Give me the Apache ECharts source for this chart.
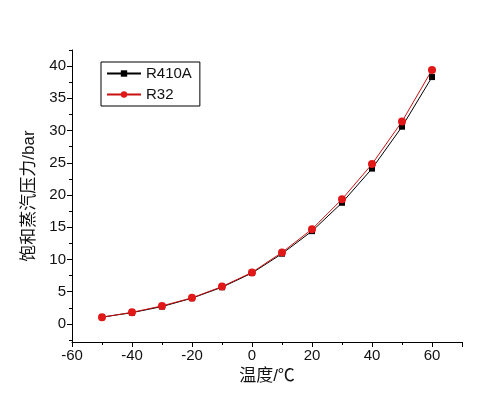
<!DOCTYPE html>
<html>
<head>
<meta charset="utf-8">
<script src="https://cdn.jsdelivr.net/npm/echarts@6/dist/echarts.min.js"></script>
<style>
html,body{margin:0;padding:0;background:#fff;}
#main{width:494px;height:403px;}
</style>
</head>
<body>
<div id="main"></div>
<script>
// 温度 (℃)
var temps = [-50, -40, -30, -20, -10, 0, 10, 20, 30, 40, 50, 60];
// 饱和蒸汽压力 (bar)
var r410a = [1.05, 1.75, 2.7, 4.0, 5.7, 7.9, 10.9, 14.4, 18.8, 24.1, 30.6, 38.3];
var r32 = [1.05, 1.8, 2.8, 4.05, 5.8, 8.0, 11.1, 14.7, 19.35, 24.8, 31.4, 39.4];
var xMajor = [-60, -40, -20, 0, 20, 40, 60];
var yMajor = [0, 5, 10, 15, 20, 25, 30, 35, 40];
var yMinor = [-2.5, 2.5, 7.5, 12.5, 17.5, 22.5, 27.5, 32.5, 37.5, 42.5];

var font = 'Arial, "Liberation Sans", "Noto Sans CJK SC", sans-serif';
var chart = echarts.init(document.getElementById('main'));

function pairs(vals) {
	return temps.map(function (t, i) { return [t, vals[i]]; });
}

var option = {
	animation: false,
	grid: { left: 72, right: 32, top: 50, bottom: 61 },
	legend: {
		orient: 'vertical',
		left: 101, top: 62,
		itemWidth: 34, itemHeight: 8, itemGap: 6,
		padding: [4, 8, 4, 5],
		borderColor: '#000', borderWidth: 1,
		textStyle: { fontFamily: font, fontSize: 15, color: '#111' },
		data: ['R410A', 'R32']
	},
	xAxis: {
		type: 'value', min: -60, max: 70, interval: 20,
		name: '温度/℃', nameLocation: 'middle', nameGap: 23,
		nameTextStyle: { fontFamily: font, fontSize: 17, color: '#111' },
		axisLine: { show: true, onZero: false, lineStyle: { color: '#000' } },
		axisTick: { show: true, length: 5, lineStyle: { color: '#000' } },
		minorTick: { show: true, splitNumber: 2, length: 3, lineStyle: { color: '#000' } },
		axisLabel: { fontFamily: font, fontSize: 15, color: '#111', margin: 6, customValues: xMajor },
		splitLine: { show: false }
	},
	yAxis: [{
		type: 'value', min: -2.8, max: 42.5,
		name: '饱和蒸汽压力/bar', nameLocation: 'middle', nameGap: 34, nameRotate: 90,
		nameTextStyle: { fontFamily: font, fontSize: 17, color: '#111' },
		axisLine: { show: true, onZero: false, lineStyle: { color: '#000' } },
		axisTick: { show: true, length: 5, customValues: yMajor, lineStyle: { color: '#000' } },
		axisLabel: { fontFamily: font, fontSize: 15, color: '#111', margin: 6, customValues: yMajor },
		splitLine: { show: false }
	}, {
		type: 'value', min: -2.8, max: 42.5, position: 'left',
		axisLine: { show: false, onZero: false },
		axisTick: { show: true, length: 3, customValues: yMinor, lineStyle: { color: '#000' } },
		axisLabel: { show: false },
		splitLine: { show: false }
	}],
	series: [{
		name: 'R410A', type: 'line', yAxisIndex: 0,
		data: pairs(r410a),
		symbol: 'rect', symbolSize: 6,
		itemStyle: { color: '#000' },
		lineStyle: { color: '#000', width: 1 }
	}, {
		name: 'R32', type: 'line', yAxisIndex: 0,
		data: pairs(r32),
		symbol: 'circle', symbolSize: 8,
		itemStyle: { color: '#e01818' },
		lineStyle: { color: '#c81010', width: 1 }
	}]
};

chart.setOption(option);
</script>
</body>
</html>
